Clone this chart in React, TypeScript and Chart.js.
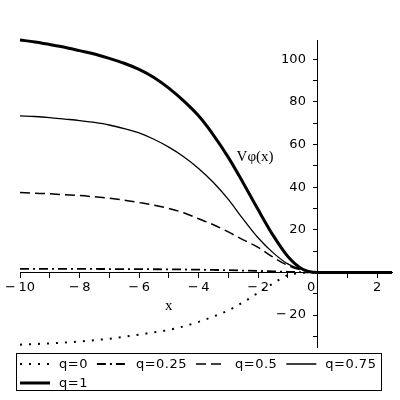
import React, { useEffect, useRef } from "react";
import { Chart, registerables } from "chart.js";

Chart.register(...registerables);

// x positions of the sampled curves
const xs = [
  -10, -9.5, -9, -8.5, -8, -7.5, -7, -6.5, -6, -5.5, -5, -4.5, -4, -3.5, -3, -2.5, -2, -1.5, -1, -0.5, 0,
  0.5, 1, 1.5, 2, 2.5,
];

const q0 = [
  -33.9, -33.6, -33.3, -32.9, -32.4, -31.8, -31.1, -30.2, -29.2, -28.1, -27, -25.3, -23.2, -20.7, -17.8, -14,
  -9.6, -5.2, -1.3, -0.2, 0, 0, 0, 0, 0, 0,
];
const q025 = [
  1.7, 1.7, 1.68, 1.66, 1.65, 1.63, 1.6, 1.58, 1.55, 1.5, 1.45, 1.38, 1.3, 1.18, 1.05, 0.88, 0.7, 0.5, 0.3, 0.12,
  0, 0, 0, 0, 0, 0,
];
const q05 = [
  37.5, 37.2, 36.9, 36.5, 36.1, 35.5, 34.8, 33.9, 32.8, 31.6, 30, 28, 25.2, 22.4, 19, 15.3, 11.8, 7.2, 3.3, 1, 0,
  0, 0, 0, 0, 0,
];
const q075 = [
  73.5, 73.2, 72.7, 72, 71.3, 70.4, 69.2, 67.5, 65.5, 62.5, 58.8, 54.3, 48.8, 42.2, 34.3, 25, 16.3, 9.3, 4, 1.3,
  0, 0, 0, 0, 0, 0,
];
const q1 = [
  109.1, 108.2, 107, 105.7, 104.1, 102.5, 100.5, 98.2, 95.3, 91.5, 86.5, 80.5, 73.5, 64.5, 54, 42, 29.5, 17.5, 7.5,
  1.5, 0, 0, 0, 0, 0, 0,
];

const seriesLabels = ["q=0", "q=0.25", "q=0.5", "q=0.75", "q=1"];
const seriesValues = [q0, q025, q05, q075, q1];
const seriesDash = [[2, 7], [9, 4, 2, 4], [10, 5], [], []];
const seriesWidth = [2, 1.8, 1.5, 1.3, 3];

const xTitle = "x";
const yTitle = "Vφ(x)";

const fmt = (v: number) => (v < 0 ? "\u2212\u2009" + Math.abs(v) : String(v));

const decor = {
  id: "decor",
  afterDraw(chart: any) {
    const { ctx } = chart;
    const x = chart.scales.x;
    const y = chart.scales.y;
    ctx.save();
    ctx.fillStyle = "#000";
    ctx.strokeStyle = "#000";
    ctx.font = '15px "Liberation Serif"';
    ctx.textAlign = "center";
    ctx.textBaseline = "middle";
    ctx.fillText(xTitle, x.getPixelForValue(-5), y.getPixelForValue(-16));
    ctx.fillText(yTitle, x.getPixelForValue(-2.1), y.getPixelForValue(54));

    // legend box
    ctx.lineWidth = 1;
    ctx.setLineDash([]);
    ctx.strokeRect(16.5, 353.5, 365, 37);
    ctx.font = '13px "DejaVu Sans"';
    (ctx as any).letterSpacing = "0.5px";
    ctx.textAlign = "left";
    let lx = 20;
    let ly = 364;
    chart.data.datasets.forEach((ds: any) => {
      const tw = ctx.measureText(ds.label).width;
      if (lx + 39 + tw > 381) {
        lx = 20;
        ly += 19;
      }
      ctx.setLineDash(ds.borderDash || []);
      ctx.lineWidth = Math.max(ds.borderWidth, 1.5);
      ctx.beginPath();
      ctx.moveTo(lx, ly);
      ctx.lineTo(lx + 30, ly);
      ctx.stroke();
      ctx.setLineDash([]);
      ctx.fillText(ds.label, lx + 39, ly + 1);
      lx += 39 + tw + 9;
    });
    ctx.restore();
  },
};

export default function App() {
  const ref = useRef<HTMLCanvasElement>(null);
  useEffect(() => {
    Chart.defaults.font.family = '"DejaVu Sans"';
    Chart.defaults.color = "#000";
    const chart = new Chart(ref.current as HTMLCanvasElement, {
      type: "line",
      data: {
        datasets: seriesLabels.map((label, i) => ({
          label,
          data: xs.map((xv, j) => ({ x: xv, y: seriesValues[i][j] })),
          borderColor: "#000",
          backgroundColor: "#000",
          borderWidth: seriesWidth[i],
          borderDash: seriesDash[i],
          pointRadius: 0,
          fill: false,
          cubicInterpolationMode: "monotone" as const,
          clip: false as any,
        })),
      },
      options: {
        animation: false,
        responsive: true,
        maintainAspectRatio: false,
        layout: { padding: { left: 20, right: 8, top: 40, bottom: 53 } },
        plugins: { legend: { display: false }, tooltip: { enabled: false } },
        scales: {
          x: {
            type: "linear",
            position: { y: 0 } as any,
            min: -10,
            max: 2.5,
            grid: { drawOnChartArea: false, tickLength: 5, color: "#000" },
            border: { color: "#000", width: 1 },
            ticks: {
              stepSize: 1,
              includeBounds: false,
              autoSkip: false,
              maxRotation: 0,
              padding: 2,
              font: { size: 13 },
              color: "#000",
              callback: (v: any) => {
                const n = Number(v);
                if (!Number.isInteger(n) || n % 2 !== 0) return "";
                return n === 0 ? "0\u2003" : fmt(n);
              },
            },
          },
          y: {
            type: "linear",
            position: { x: 0 } as any,
            min: -35,
            max: 109.1,
            grid: { drawOnChartArea: false, tickLength: 4, color: "#000" },
            border: { color: "#000", width: 1 },
            ticks: {
              stepSize: 10,
              includeBounds: false,
              autoSkip: false,
              padding: 5,
              font: { size: 13 },
              color: "#000",
              callback: (v: any) => {
                const n = Number(v);
                if (n === 0 || n % 20 !== 0) return "";
                return fmt(n) + "\u2002\u2009\u2009";
              },
            },
          },
        },
      },
      plugins: [decor],
    });
    return () => chart.destroy();
  }, []);
  return (
    <div style={{ position: "absolute", left: 0, top: 0, width: 400, height: 400, background: "#fff" }}>
      <canvas ref={ref} />
    </div>
  );
}
